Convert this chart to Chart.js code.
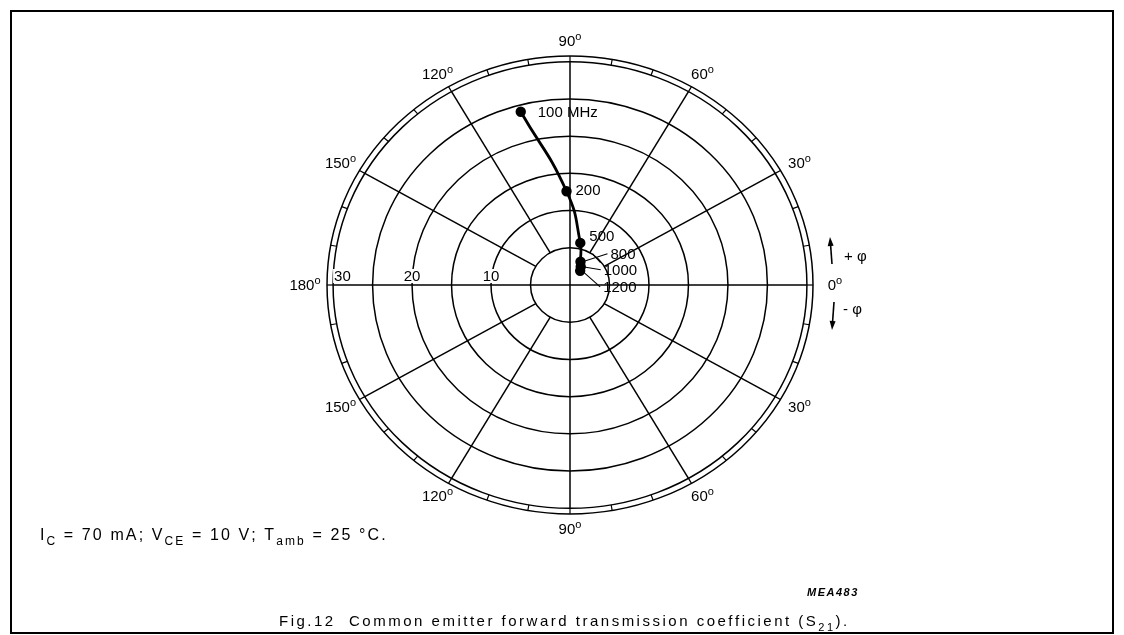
<!DOCTYPE html>
<html>
<head>
<meta charset="utf-8">
<script src="https://cdn.jsdelivr.net/npm/chart.js@4.4.1/dist/chart.umd.min.js"></script>
<style>
  body { margin: 0; background: #fff; }
  canvas { display: block; }
</style>
</head>
<body>
<canvas id="s21Chart" width="1124" height="635"></canvas>
<script>
// S21 locus (magnitude, phase in degrees)
const frequencies = [100, 200, 500, 800, 1000, 1200];
const freqLabels = ['100 MHz', '200', '500', '800', '1000', '1200'];
const magnitudes = [24.1, 12.6, 5.8, 3.4, 2.8, 2.3];
const phases = [105, 92, 77, 67, 61, 56];

// polar grid
const ringValues = [5, 10, 15, 20, 25, 30];
const ringLabels = [10, 20, 30];
const spokeAngles = [0, 30, 60, 90, 120, 150, 180, 210, 240, 270, 300, 330];
const angleLabels = ['0', '30', '60', '90', '120', '150', '180', '150', '120', '90', '60', '30'];
const fullScale = 30;
const outerRim = 30.77;

const FONT = '"Liberation Sans", Arial, sans-serif';

function toRad(a) { return a * Math.PI / 180; }

// text made of normal / sub / sup pieces, optionally stretched to a width
function drawRich(ctx, parts, x, y, size, align, width) {
    const fontFor = m => (m === 'n' ? size : Math.round(size * 0.72)) + 'px ' + FONT;
    let natural = 0, chars = 0;
    parts.forEach(([t, m]) => {
        ctx.font = fontFor(m);
        natural += ctx.measureText(t).width;
        chars += t.length;
    });
    const gap = width ? (width - natural) / (chars - 1) : 0;
    const total = natural + gap * (chars - 1);
    let cur = align === 'center' ? x - total / 2 : x;
    ctx.textAlign = 'left';
    ctx.textBaseline = 'alphabetic';
    parts.forEach(([t, m]) => {
        ctx.font = fontFor(m);
        let dy = 0;
        if (m === 'sub') dy = size * 0.3;
        if (m === 'sup') dy = -size * 0.4;
        for (const ch of t) {
            ctx.fillText(ch, cur, y + dy);
            cur += ctx.measureText(ch).width + gap;
        }
    });
}

function arrow(ctx, x0, y0, x1, y1) {
    const a = Math.atan2(y1 - y0, x1 - x0);
    ctx.beginPath();
    ctx.moveTo(x0, y0);
    ctx.lineTo(x1 - 6 * Math.cos(a), y1 - 6 * Math.sin(a));
    ctx.stroke();
    ctx.beginPath();
    ctx.moveTo(x1, y1);
    ctx.lineTo(x1 - 9 * Math.cos(a) + 3 * Math.sin(a), y1 - 9 * Math.sin(a) - 3 * Math.cos(a));
    ctx.lineTo(x1 - 9 * Math.cos(a) - 3 * Math.sin(a), y1 - 9 * Math.sin(a) + 3 * Math.cos(a));
    ctx.closePath();
    ctx.fill();
}

const polarGrid = {
    id: 'polarGrid',
    beforeDraw(chart) {
        const ctx = chart.ctx;
        ctx.save();
        ctx.fillStyle = '#fff';
        ctx.fillRect(0, 0, chart.width, chart.height);
        ctx.restore();
    },
    beforeDatasetsDraw(chart) {
        const { ctx, scales: { x, y } } = chart;
        const cx = x.getPixelForValue(0), cy = y.getPixelForValue(0);
        const rx = v => x.getPixelForValue(v) - cx;
        const ry = v => cy - y.getPixelForValue(v);
        ctx.save();
        ctx.strokeStyle = '#000';
        ctx.lineWidth = 1.5;

        ringValues.concat([outerRim]).forEach(v => {
            ctx.beginPath();
            ctx.ellipse(cx, cy, rx(v), ry(v), 0, 0, 2 * Math.PI);
            ctx.stroke();
        });

        // spokes: axes go through the centre, the others stop at the first ring
        spokeAngles.forEach(a => {
            const c = Math.cos(toRad(a)), s = Math.sin(toRad(a));
            const r0 = a % 90 === 0 ? 0 : ringValues[0];
            ctx.beginPath();
            ctx.moveTo(cx + rx(r0) * c, cy - ry(r0) * s);
            ctx.lineTo(cx + rx(fullScale) * c, cy - ry(fullScale) * s);
            ctx.stroke();
        });

        // 10 degree marks across the rim band
        ctx.lineWidth = 1.2;
        for (let a = 0; a < 360; a += 10) {
            const c = Math.cos(toRad(a)), s = Math.sin(toRad(a));
            ctx.beginPath();
            ctx.moveTo(cx + rx(fullScale) * c, cy - ry(fullScale) * s);
            ctx.lineTo(cx + rx(outerRim) * c, cy - ry(outerRim) * s);
            ctx.stroke();
        }

        // magnitude labels along the 180 degree axis
        ctx.font = '15px ' + FONT;
        ctx.textAlign = 'center';
        ctx.textBaseline = 'alphabetic';
        ringLabels.forEach(v => {
            const w = ctx.measureText(String(v)).width;
            let px = cx - rx(v);
            px = Math.max(px, cx - rx(fullScale) + w / 2 + 1);
            ctx.fillStyle = '#fff';
            ctx.fillRect(px - w / 2 - 1, cy - 16, w + 2, 14);
            ctx.fillStyle = '#000';
            ctx.fillText(String(v), px, cy - 4);
        });
        ctx.restore();
    },
    afterDatasetsDraw(chart) {
        const { ctx, scales: { x, y } } = chart;
        const cx = x.getPixelForValue(0), cy = y.getPixelForValue(0);
        const rx = v => x.getPixelForValue(v) - cx;
        const ry = v => cy - y.getPixelForValue(v);
        const meta = chart.getDatasetMeta(0);
        // label placement next to each point (pixels)
        const place = [[17, 1], [9, 0], [9, -6], [30, -7], [23, 4], [23, 17]];
        ctx.save();
        ctx.fillStyle = '#000';
        ctx.strokeStyle = '#000';
        ctx.lineWidth = 1.1;
        ctx.font = '15px ' + FONT;
        ctx.textAlign = 'left';
        ctx.textBaseline = 'middle';
        meta.data.forEach((pt, i) => {
            const [dx, dy] = place[i];
            if (i >= 3) {
                ctx.beginPath();
                ctx.moveTo(pt.x + 2, pt.y);
                ctx.lineTo(pt.x + dx - 3, pt.y + dy - 1);
                ctx.stroke();
            }
            ctx.fillText(freqLabels[i], pt.x + dx, pt.y + dy);
        });
        // short cross stroke near the 800 label
        const p800 = meta.data[3];
        ctx.beginPath();
        ctx.moveTo(p800.x + 12, p800.y - 8);
        ctx.lineTo(p800.x + 20, p800.y + 1);
        ctx.stroke();

        // angle labels outside the rim
        spokeAngles.forEach((a, i) => {
            const c = Math.cos(toRad(a)), s = Math.sin(toRad(a));
            const lx = cx + (rx(outerRim) + 22) * c;
            const ly = cy - (ry(outerRim) + 15) * s;
            drawRich(ctx, [[angleLabels[i], 'n'], ['o', 'sup']], lx, ly + 5, 15, 'center');
        });

        // phase direction arrows
        const ex = cx + rx(outerRim);
        ctx.lineWidth = 1.6;
        arrow(ctx, ex + 19, cy - 21, ex + 17, cy - 48);
        arrow(ctx, ex + 21, cy + 17, ex + 19, cy + 45);
        ctx.font = '15px ' + FONT;
        ctx.textBaseline = 'middle';
        ctx.textAlign = 'left';
        ctx.fillText('+ \u03c6', ex + 31, cy - 28);
        ctx.fillText('- \u03c6', ex + 30, cy + 25);
        ctx.restore();
    },
    afterDraw(chart) {
        const ctx = chart.ctx;
        ctx.save();
        ctx.fillStyle = '#000';
        ctx.strokeStyle = '#000';
        ctx.lineWidth = 2;
        ctx.strokeRect(11, 11, 1102, 622);

        drawRich(ctx, [['I', 'n'], ['C', 'sub'], [' = 70 mA; V', 'n'], ['CE', 'sub'],
            [' = 10 V; T', 'n'], ['amb', 'sub'], [' = 25 \u00b0C.', 'n']], 40, 540, 16, 'left', 345);

        drawRich(ctx, [['Fig.12  Common emitter forward transmission coefficient (S', 'n'],
            ['21', 'sub'], [').', 'n']], 563, 626, 15, 'center', 568);

        ctx.font = 'italic bold 11px ' + FONT;
        ctx.textAlign = 'left';
        ctx.textBaseline = 'alphabetic';
        let mx = 807;
        for (const ch of 'MEA483') {
            ctx.fillText(ch, mx, 596);
            mx += ctx.measureText(ch).width + 1.5;
        }
        ctx.restore();
    }
};

const points = magnitudes.map((m, i) => ({
    x: m * Math.cos(toRad(phases[i])),
    y: m * Math.sin(toRad(phases[i]))
}));

let ctx = document.getElementById('s21Chart').getContext('2d');
let s21Chart = new Chart(ctx, {
    type: 'scatter',
    data: {
        datasets: [{
            label: 'S21',
            data: points,
            showLine: true,
            tension: 0.5,
            borderColor: '#000',
            borderWidth: 2.8,
            backgroundColor: '#000',
            pointRadius: 3.8,
            pointBackgroundColor: '#000',
            clip: false
        }]
    },
    options: {
        responsive: false,
        animation: false,
        layout: {
            padding: { left: 327, right: 311, top: 56, bottom: 121 }
        },
        scales: {
            x: { type: 'linear', min: -outerRim, max: outerRim, display: false },
            y: { type: 'linear', min: -outerRim, max: outerRim, display: false }
        },
        plugins: {
            legend: { display: false },
            tooltip: { enabled: false }
        }
    },
    plugins: [polarGrid]
});
</script>
</body>
</html>
